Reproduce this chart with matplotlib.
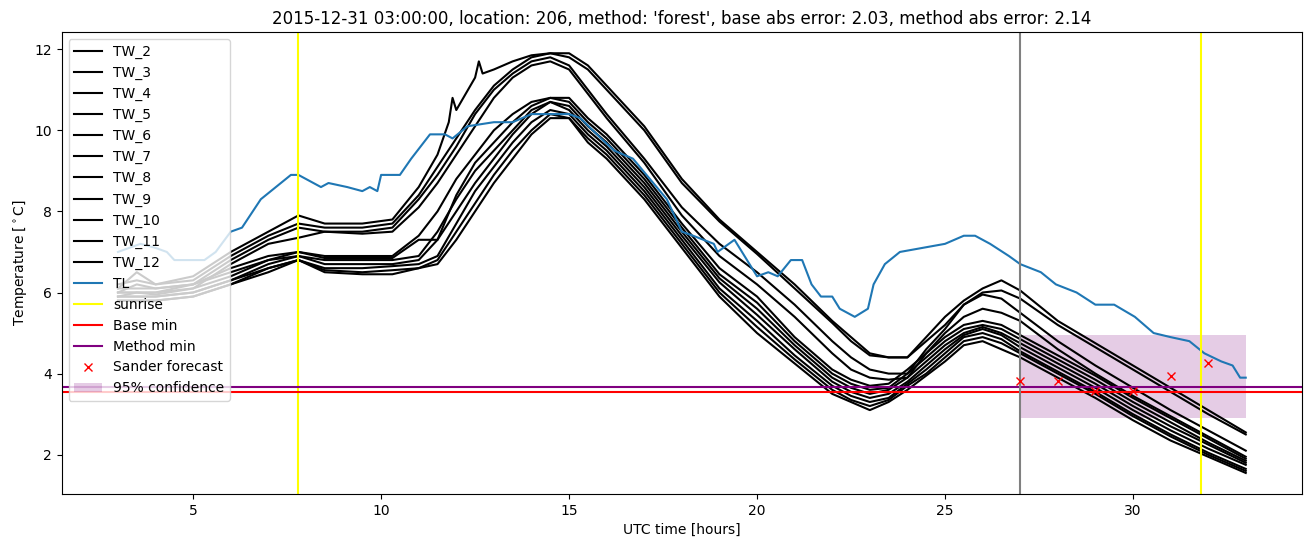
import numpy as np
import matplotlib
matplotlib.use("Agg")
import matplotlib.pyplot as plt

# Heures UTC communes aux courbes TW
hours = [3.0, 3.5, 4.0, 5.0, 6.0, 7.0, 7.8, 8.5, 9.5, 10.3, 11.0, 11.5, 12.0, 12.5,
         13.0, 13.5, 14.0, 14.5, 15.0, 15.5, 16.0, 17.0, 18.0, 19.0, 20.0, 21.0,
         22.0, 22.5, 23.0, 23.5, 24.0, 24.5, 25.0, 25.5, 26.0, 26.5, 27.0, 28.0,
         29.0, 30.0, 31.0, 32.0, 33.0]

# TW_2 a ses propres heures (pics vers 11.9 h et 12.6 h)
hours_2 = [3.0, 3.5, 4.0, 5.0, 6.0, 7.0, 7.8, 8.5, 9.5, 10.3, 11.0, 11.5, 11.8, 11.9,
           12.0, 12.5, 12.6, 12.7, 13.0, 13.5, 14.0, 14.5, 15.0, 15.5, 16.0, 17.0,
           18.0, 19.0, 20.0, 21.0, 22.0, 22.5, 23.0, 23.5, 24.0, 24.5, 25.0, 25.5,
           26.0, 26.5, 27.0, 28.0, 29.0, 30.0, 31.0, 32.0, 33.0]
tw_2 = [6.2, 6.3, 6.2, 6.4, 7.0, 7.5, 7.9, 7.7, 7.7, 7.8, 8.6, 9.4, 10.2, 10.8,
        10.5, 11.3, 11.7, 11.4, 11.5, 11.7, 11.85, 11.9, 11.9, 11.6, 11.1, 10.1,
        8.8, 7.8, 7.0, 6.2, 5.3, 4.9, 4.5, 4.4, 4.4, 4.9, 5.4, 5.8,
        6.1, 6.3, 6.05, 5.3, 4.75, 4.2, 3.65, 3.1, 2.55]
tw_3 = [6.1, 6.5, 6.2, 6.3, 6.9, 7.4, 7.7, 7.6, 7.6, 7.7, 8.4, 9.1, 9.8, 10.5,
        11.1, 11.5, 11.8, 11.9, 11.8, 11.5, 11.0, 10.0, 8.7, 7.75, 6.95, 6.1,
        5.25, 4.8, 4.45, 4.4, 4.4, 4.8, 5.2, 5.7, 6.0, 6.05, 5.85, 5.2,
        4.65, 4.1, 3.55, 3.0, 2.5]
tw_4 = [6.0, 6.2, 6.1, 6.2, 6.8, 7.3, 7.6, 7.5, 7.5, 7.6, 8.3, 8.9, 9.6, 10.4,
        11.0, 11.4, 11.7, 11.8, 11.6, 11.0, 10.4, 9.3, 8.1, 7.2, 6.5, 5.7,
        4.8, 4.4, 4.1, 4.0, 4.0, 4.6, 5.1, 5.7, 5.95, 5.85, 5.5, 4.8,
        4.2, 3.65, 3.1, 2.6, 2.1]
tw_5 = [5.9, 6.0, 6.0, 6.1, 6.7, 7.2, 7.35, 7.5, 7.45, 7.5, 8.1, 8.7, 9.4, 10.1,
        10.8, 11.3, 11.6, 11.7, 11.5, 10.9, 10.3, 9.2, 7.9, 6.9, 6.2, 5.4,
        4.5, 4.1, 3.9, 3.85, 3.9, 4.5, 5.0, 5.4, 5.6, 5.5, 5.3, 4.6,
        4.0, 3.45, 2.95, 2.45, 1.95]
tw_6 = [6.1, 6.1, 6.1, 6.2, 6.6, 6.9, 7.0, 6.9, 6.9, 6.9, 7.4, 8.0, 8.8, 9.4,
        10.0, 10.4, 10.7, 10.8, 10.8, 10.3, 9.9, 8.9, 7.7, 6.6, 5.9, 4.9,
        4.1, 3.85, 3.7, 3.75, 4.1, 4.5, 4.9, 5.2, 5.3, 5.2, 4.95, 4.45,
        3.95, 3.4, 2.9, 2.4, 1.9]
tw_7 = [6.0, 6.0, 6.0, 6.2, 6.5, 6.8, 7.0, 6.85, 6.85, 6.85, 7.3, 7.3, 8.4, 9.2,
        9.7, 10.2, 10.6, 10.8, 10.7, 10.2, 9.8, 8.8, 7.6, 6.45, 5.75, 4.8,
        4.0, 3.75, 3.6, 3.65, 4.0, 4.4, 4.8, 5.1, 5.2, 5.1, 4.85, 4.35,
        3.85, 3.3, 2.8, 2.3, 1.85]
tw_8 = [6.0, 6.0, 5.95, 6.1, 6.4, 6.8, 6.9, 6.8, 6.8, 6.8, 6.9, 7.5, 8.3, 9.0,
        9.5, 10.0, 10.5, 10.7, 10.6, 10.1, 9.7, 8.7, 7.5, 6.35, 5.6, 4.7,
        3.9, 3.65, 3.5, 3.6, 3.9, 4.3, 4.7, 5.0, 5.15, 5.0, 4.75, 4.25,
        3.75, 3.2, 2.7, 2.25, 1.8]
tw_9 = [5.9, 5.9, 5.9, 6.0, 6.3, 6.7, 6.9, 6.7, 6.7, 6.7, 6.8, 7.3, 8.0, 8.7,
        9.3, 9.9, 10.4, 10.7, 10.5, 10.0, 9.6, 8.6, 7.4, 6.25, 5.45, 4.6,
        3.8, 3.55, 3.4, 3.5, 3.8, 4.2, 4.6, 4.95, 5.1, 4.95, 4.65, 4.15,
        3.65, 3.1, 2.6, 2.15, 1.75]
tw_10 = [5.9, 5.9, 5.9, 6.0, 6.3, 6.6, 6.8, 6.6, 6.6, 6.65, 6.7, 6.9, 7.7, 8.5,
         9.1, 9.7, 10.2, 10.5, 10.4, 9.9, 9.5, 8.5, 7.3, 6.1, 5.3, 4.45,
         3.7, 3.45, 3.3, 3.4, 3.75, 4.1, 4.5, 4.9, 5.0, 4.85, 4.55, 4.05,
         3.55, 3.0, 2.5, 2.05, 1.65]
tw_11 = [5.8, 5.8, 5.8, 5.9, 6.2, 6.6, 6.8, 6.55, 6.5, 6.55, 6.6, 6.8, 7.5, 8.2,
         8.9, 9.5, 10.0, 10.4, 10.3, 9.8, 9.4, 8.4, 7.2, 6.0, 5.15, 4.35,
         3.6, 3.35, 3.2, 3.35, 3.7, 4.0, 4.4, 4.8, 4.9, 4.75, 4.5, 4.0,
         3.5, 2.95, 2.45, 2.0, 1.6]
tw_12 = [5.8, 5.8, 5.8, 5.9, 6.2, 6.5, 6.8, 6.5, 6.45, 6.45, 6.6, 6.7, 7.3, 8.0,
         8.7, 9.3, 9.9, 10.3, 10.3, 9.7, 9.3, 8.3, 7.1, 5.9, 5.0, 4.25,
         3.5, 3.3, 3.1, 3.3, 3.6, 3.95, 4.3, 4.7, 4.8, 4.6, 4.4, 3.9,
         3.4, 2.85, 2.35, 1.95, 1.55]

tw_series = [(hours_2, tw_2), (hours, tw_3), (hours, tw_4), (hours, tw_5),
             (hours, tw_6), (hours, tw_7), (hours, tw_8), (hours, tw_9),
             (hours, tw_10), (hours, tw_11), (hours, tw_12)]
tw_noms = ["TW_%d" % k for k in range(2, 13)]

# Temperature TL (bleu)
tl_hours = [3.0, 3.6, 4.0, 4.3, 4.5, 5.3, 5.6, 6.0, 6.3, 6.8, 7.6, 7.8, 8.2, 8.4,
            8.6, 9.1, 9.5, 9.7, 9.9, 10.0, 10.5, 10.8, 11.3, 11.7, 11.9, 12.3,
            13.0, 13.5, 14.0, 15.0, 15.3, 15.85, 16.2, 16.7, 17.6, 18.0, 18.3,
            18.85, 18.95, 19.4, 20.0, 20.3, 20.55, 20.9, 21.2, 21.45, 21.7, 22.0,
            22.2, 22.6, 22.95, 23.1, 23.4, 23.8, 25.0, 25.5, 25.8, 26.2, 26.7,
            27.0, 27.55, 27.95, 28.5, 29.0, 29.5, 30.05, 30.55, 31.0, 31.5, 31.9,
            32.35, 32.65, 32.85, 33.0]
tl_temp = [7.0, 7.2, 7.1, 7.0, 6.8, 6.8, 7.0, 7.5, 7.6, 8.3, 8.9, 8.9, 8.7, 8.6,
           8.7, 8.6, 8.5, 8.6, 8.5, 8.9, 8.9, 9.3, 9.9, 9.9, 9.8, 10.1,
           10.2, 10.2, 10.4, 10.4, 10.3, 9.8, 9.5, 9.3, 8.3, 7.5, 7.4,
           7.2, 7.0, 7.3, 6.4, 6.5, 6.4, 6.8, 6.8, 6.2, 5.9, 5.9,
           5.6, 5.4, 5.6, 6.2, 6.7, 7.0, 7.2, 7.4, 7.4, 7.2, 6.9,
           6.7, 6.5, 6.2, 6.0, 5.7, 5.7, 5.4, 5.0, 4.9, 4.8, 4.5,
           4.3, 4.2, 3.9, 3.9]

sunrise = [7.8, 31.8]
t_prevision = 27.0
base_min = 3.55
method_min = 3.66

sander_hours = [27, 28, 29, 30, 31, 32]
sander_temp = [3.83, 3.83, 3.56, 3.58, 3.93, 4.27]

conf_hours = [27.0, 33.0]
conf_low = 2.9
conf_high = 4.95

fig = plt.figure(figsize=(13.1, 5.47), dpi=100)
ax = fig.add_subplot(111)
fig.subplots_adjust(left=0.047, right=0.994, bottom=0.097, top=0.941)

for (h, serie), nom in zip(tw_series, tw_noms):
    ax.plot(h, serie, color="black", label=nom)
ax.plot(tl_hours, tl_temp, label="TL")

ax.axvline(sunrise[0], color="yellow", label="sunrise")
ax.axvline(sunrise[1], color="yellow")
ax.axhline(base_min, color="red", label="Base min")
ax.axhline(method_min, color="purple", label="Method min")
ax.axvline(t_prevision, color="grey")
ax.plot(sander_hours, sander_temp, "rx", label="Sander forecast")
ax.fill_between(conf_hours, conf_low, conf_high, color="purple", alpha=0.2,
                linewidth=0, label="95% confidence")

ax.set_title("2015-12-31 03:00:00, location: 206, method: 'forest', "
             "base abs error: 2.03, method abs error: 2.14")
ax.set_xlabel("UTC time [hours]")
ax.set_ylabel(r"Temperature [$^\circ$C]")
ax.legend(loc="upper left")

plt.savefig("out.png")
